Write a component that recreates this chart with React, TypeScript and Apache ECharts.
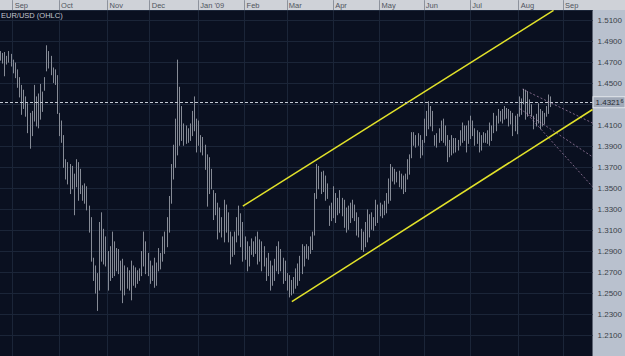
import { useEffect, useRef } from "react";
import * as echarts from "echarts";

// ---- categories (trading weekdays) ----
const START_DATE = "2008-08-22";
const CATEGORY_COUNT = 282;
const MONTH_LABELS = ["Sep", "Oct", "Nov", "Dec", "Jan '09", "Feb", "Mar", "Apr", "May", "Jun", "Jul", "Aug", "Sep"];

// ---- price axis ----
const Y_MIN = 1.19;
const Y_MAX = 1.52;
const Y_INTERVAL = 0.02;

// ---- daily highs / lows, in pips (price x 10000) ----
const HIGH_PIPS = [
  14805, 14787, 14796, 14759, 14805, 14778, 14723, 14695, 14630, 14556,
  14482, 14436, 14372, 14307, 14215, 14234, 14482, 14372, 14400, 14491,
  14418, 14556, 14860, 14805, 14759, 14648, 14630, 14575, 14215, 14142,
  14003, 13773, 13745, 13727, 13709, 13635, 13773, 13745, 13681, 13524,
  13542, 13515, 13330, 13220, 12833, 12759, 12686, 13174, 13266, 13109,
  13036, 12897, 12943, 13082, 12989, 12925, 12916, 12805, 12823, 12759,
  12741, 12713, 12805, 12759, 12741, 12713, 12731, 12897, 13082, 12989,
  12879, 12805, 12759, 12833, 12787, 12925, 12879, 13036, 13082, 13220,
  13422, 13727, 13911, 14160, 14723, 14464, 14280, 14114, 14095, 14068,
  14114, 14234, 14372, 14160, 14142, 14003, 13985, 13911, 13819, 13792,
  13681, 13478, 13450, 13358, 13312, 13220, 13386, 13340, 13266, 13082,
  13036, 13082, 13220, 13330, 13257, 13174, 13036, 12989, 12943, 13017,
  12989, 13036, 13082, 13008, 12989, 12943, 12833, 12879, 12805, 12759,
  12823, 12943, 12989, 12916, 12833, 12805, 12686, 12667, 12621, 12649,
  12731, 12778, 12851, 12962, 12943, 12962, 12943, 13036, 13082, 13450,
  13727, 13709, 13653, 13663, 13617, 13542, 13330, 13358, 13515, 13450,
  13404, 13478, 13404, 13386, 13312, 13330, 13358, 13386, 13340, 13266,
  13220, 13109, 13082, 13174, 13294, 13248, 13266, 13220, 13386, 13340,
  13358, 13340, 13376, 13450, 13589, 13727, 13700, 13681, 13653, 13663,
  13635, 13617, 13635, 13773, 13819, 14031, 14031, 14003, 14021, 14003,
  13957, 14160, 14234, 14326, 14280, 14234, 14003, 14021, 14068, 14142,
  14160, 14095, 14003, 13957, 14003, 13975, 13975, 13957, 14049, 14123,
  14095, 14095, 14142, 14188, 14142, 14068, 14049, 14031, 14003, 14031,
  14021, 14049, 14123, 14095, 14215, 14188, 14252, 14234, 14252, 14280,
  14262, 14252, 14234, 14215, 14188, 14206, 14372, 14353, 14445, 14436,
  14418, 14344, 14298, 14188, 14206, 14307, 14252, 14234, 14215, 14280,
  14390, 14372,
];
const LOW_PIPS = [
  14723, 14695, 14574, 14686, 14704, 14667, 14602, 14556, 14464, 14372,
  14206, 14262, 14188, 14031, 13883, 14003, 14142, 14095, 14077, 14160,
  14234, 14436, 14621, 14648, 14584, 14510, 14491, 14215, 14003, 13939,
  13700, 13589, 13542, 13450, 13496, 13248, 13515, 13386, 13450, 13386,
  13358, 13294, 13082, 12805, 12621, 12501, 12335, 12529, 12805, 12778,
  12759, 12529, 12621, 12649, 12667, 12713, 12686, 12529, 12409, 12483,
  12547, 12529, 12436, 12575, 12556, 12593, 12621, 12667, 12759, 12686,
  12667, 12593, 12621, 12556, 12575, 12713, 12731, 12805, 12879, 12943,
  13082, 13358, 13589, 13700, 13819, 13911, 13957, 13911, 13929, 13939,
  13957, 14003, 14049, 13847, 13911, 13847, 13819, 13681, 13330, 13450,
  13496, 13202, 13248, 13017, 13082, 13036, 12989, 13082, 12989, 12778,
  12851, 12870, 12989, 13054, 12943, 12805, 12823, 12713, 12759, 12870,
  12851, 12879, 12778, 12805, 12713, 12759, 12621, 12667, 12529, 12575,
  12621, 12713, 12686, 12713, 12593, 12621, 12529, 12464, 12483, 12501,
  12547, 12575, 12621, 12686, 12759, 12833, 12823, 12879, 12916, 13054,
  13404, 13496, 13450, 13469, 13386, 13404, 13146, 13192, 13220, 13174,
  13248, 13266, 13238, 13128, 13082, 13109, 13174, 13220, 13192, 13054,
  13036, 12916, 12897, 12943, 12989, 13036, 13109, 13100, 13146, 13174,
  13238, 13220, 13248, 13266, 13358, 13386, 13570, 13542, 13561, 13515,
  13496, 13450, 13469, 13589, 13635, 13792, 13911, 13893, 13911, 13792,
  13819, 13939, 14003, 14068, 14095, 14049, 13911, 13893, 13939, 13957,
  13939, 13911, 13755, 13801, 13819, 13838, 13847, 13865, 13911, 13939,
  13957, 13847, 13929, 13975, 14003, 13911, 13929, 13847, 13865, 13939,
  13939, 13929, 13911, 13957, 14031, 14049, 14123, 14142, 14123, 14160,
  14169, 14095, 14114, 14003, 14049, 14021, 14188, 14206, 14307, 14160,
  14188, 14215, 14188, 14068, 14095, 14123, 14068, 14095, 14114, 14188,
  14215, 14280,
];
const LAST_PRICE = 1.43216;

// ---- drawn annotations: [category index, price] ----
const UPPER_CHANNEL = [[115.15, 1.333], [262.5, 1.5197]];
const LOWER_CHANNEL = [[138.4, 1.2418], [281, 1.4252]];
const FAN_LINES = [
  [[247.8, 1.4446], [281, 1.4123]],
  [[246.4, 1.4261], [281, 1.38]],
  [[250.2, 1.4206], [281, 1.3515]],
];

function weekdays(start: string, n: number): string[] {
  const out: string[] = [];
  const d = new Date(start + "T00:00:00Z");
  while (out.length < n) {
    const wd = d.getUTCDay();
    if (wd !== 0 && wd !== 6) out.push(d.toISOString().slice(0, 10));
    d.setUTCDate(d.getUTCDate() + 1);
  }
  return out;
}

const DATES = weekdays(START_DATE, CATEGORY_COUNT);
const MONTH_START: number[] = [];
DATES.forEach((d, i) => {
  if (i > 0 && d.slice(0, 7) !== DATES[i - 1].slice(0, 7)) MONTH_START.push(i);
});
const LABEL_BY_DATE = new Map<string, string>();
MONTH_START.forEach((idx, k) => LABEL_BY_DATE.set(DATES[idx], MONTH_LABELS[k] ?? ""));

const FONT = '"Liberation Sans", Arial, sans-serif';
const PLOT_BG = "#0a1020";
const GRID_LINE = "#1b2538";
const PANEL_BG = "#b9c1ce";
const STRIP_BG = "#cfd2d8";
const BAR_COLOR = "#868b96";
const CHANNEL_COLOR = "#e2e22a";

export default function App() {
  const ref = useRef<HTMLDivElement>(null);

  useEffect(() => {
    document.body.style.margin = "0";
    if (!ref.current) return;
    const chart = echarts.init(ref.current, undefined, { renderer: "svg" });

    const barData = HIGH_PIPS.map((h, i) => [i, h / 10000, LOW_PIPS[i] / 10000]);
    const lastStr = LAST_PRICE.toFixed(5);
    const isMonthStart = (index: number) => MONTH_START.includes(index);

    const fanSeries = FAN_LINES.map((pts) => ({
      type: "line",
      xAxisIndex: 1,
      data: pts,
      symbol: "none",
      silent: true,
      z: 3,
      lineStyle: { color: "rgba(200,156,200,0.6)", width: 1, type: [2, 2] },
    }));

    chart.setOption({
      animation: false,
      backgroundColor: "transparent",
      grid: {
        left: 0,
        top: 10.15,
        width: 593,
        height: 358.05,
        show: true,
        backgroundColor: PLOT_BG,
        borderWidth: 0,
      },
      graphic: [
        {
          type: "rect",
          z: -1,
          shape: { x: 0, y: 0, width: 625, height: 10 },
          style: { fill: STRIP_BG },
        },
        {
          type: "text",
          z: 10,
          x: 1,
          y: 15,
          style: {
            text: "EUR/USD (OHLC)",
            fill: "#c2c6ce",
            font: `7.5px ${FONT}`,
            verticalAlign: "middle",
          },
        },
      ],
      xAxis: [
        {
          type: "category",
          position: "top",
          data: DATES,
          boundaryGap: false,
          axisLine: { show: false },
          axisTick: {
            show: true,
            interval: (index: number) => isMonthStart(index),
            length: 10,
            inside: false,
            lineStyle: { color: "#8d929c", width: 1 },
          },
          axisLabel: {
            interval: (index: number) => isMonthStart(index),
            formatter: (value: string) => LABEL_BY_DATE.get(value) ?? "",
            align: "left",
            verticalAlign: "middle",
            margin: 5,
            padding: [0, 0, 0, 2],
            color: "#50555e",
            fontSize: 7.5,
            fontFamily: FONT,
          },
          splitLine: {
            show: true,
            interval: (index: number) => isMonthStart(index),
            lineStyle: { color: GRID_LINE, width: 1 },
          },
        },
        { type: "value", min: 0, max: CATEGORY_COUNT - 1, show: false },
      ],
      yAxis: {
        type: "value",
        position: "right",
        min: Y_MIN,
        max: Y_MAX,
        interval: Y_INTERVAL,
        axisLine: { show: false },
        axisTick: { show: false },
        axisLabel: {
          showMaxLabel: false,
          showMinLabel: false,
          // the tick hidden under the last-price marker is not shown
          formatter: (v: number) => (Math.abs(v - LAST_PRICE) < 0.008 ? "" : v.toFixed(4)),
          margin: 5,
          color: "#3a3f48",
          fontSize: 8,
          fontFamily: FONT,
        },
        splitLine: { show: true, lineStyle: { color: GRID_LINE, width: 1 } },
      },
      series: [
        {
          type: "custom",
          xAxisIndex: 1,
          data: barData,
          encode: { x: 0, y: [1, 2] },
          z: 2,
          silent: true,
          renderItem: (_params: any, api: any) => {
            const i = api.value(0);
            const top = api.coord([i, api.value(1)]);
            const bot = api.coord([i, api.value(2)]);
            const x = Math.round(top[0]) + 0.5;
            return {
              type: "line",
              shape: { x1: x, y1: top[1] - 0.5, x2: x, y2: bot[1] + 0.5 },
              style: { stroke: BAR_COLOR, lineWidth: 1 },
            };
          },
        },
        {
          type: "line",
          xAxisIndex: 1,
          data: UPPER_CHANNEL,
          symbol: "none",
          silent: true,
          z: 4,
          lineStyle: { color: CHANNEL_COLOR, width: 1.5 },
        },
        {
          type: "line",
          xAxisIndex: 1,
          data: LOWER_CHANNEL,
          symbol: "none",
          silent: true,
          z: 4,
          lineStyle: { color: CHANNEL_COLOR, width: 1.5 },
          markLine: {
            silent: true,
            symbol: ["none", "none"],
            precision: 5,
            lineStyle: { color: "#c4cad4", width: 1, type: [3, 2] },
            label: {
              show: true,
              position: "end",
              distance: 1,
              formatter: `{a|${lastStr.slice(0, 6)}}{b|${lastStr.slice(6)}}`,
              backgroundColor: "#a0a9b8",
              borderColor: "#e2e6ec",
              borderWidth: 1,
              padding: [1, 1, 0, 2],
              rich: {
                a: { fontSize: 8, color: "#262b33", fontFamily: FONT, lineHeight: 9, width: 25, align: "left" },
                b: { fontSize: 5.5, color: "#262b33", fontFamily: FONT, verticalAlign: "top", lineHeight: 9 },
              },
            },
            data: [{ yAxis: LAST_PRICE }],
          },
        },
        ...fanSeries,
      ],
    });

    return () => chart.dispose();
  }, []);

  return <div ref={ref} style={{ width: 625, height: 356, background: PANEL_BG }} />;
}
